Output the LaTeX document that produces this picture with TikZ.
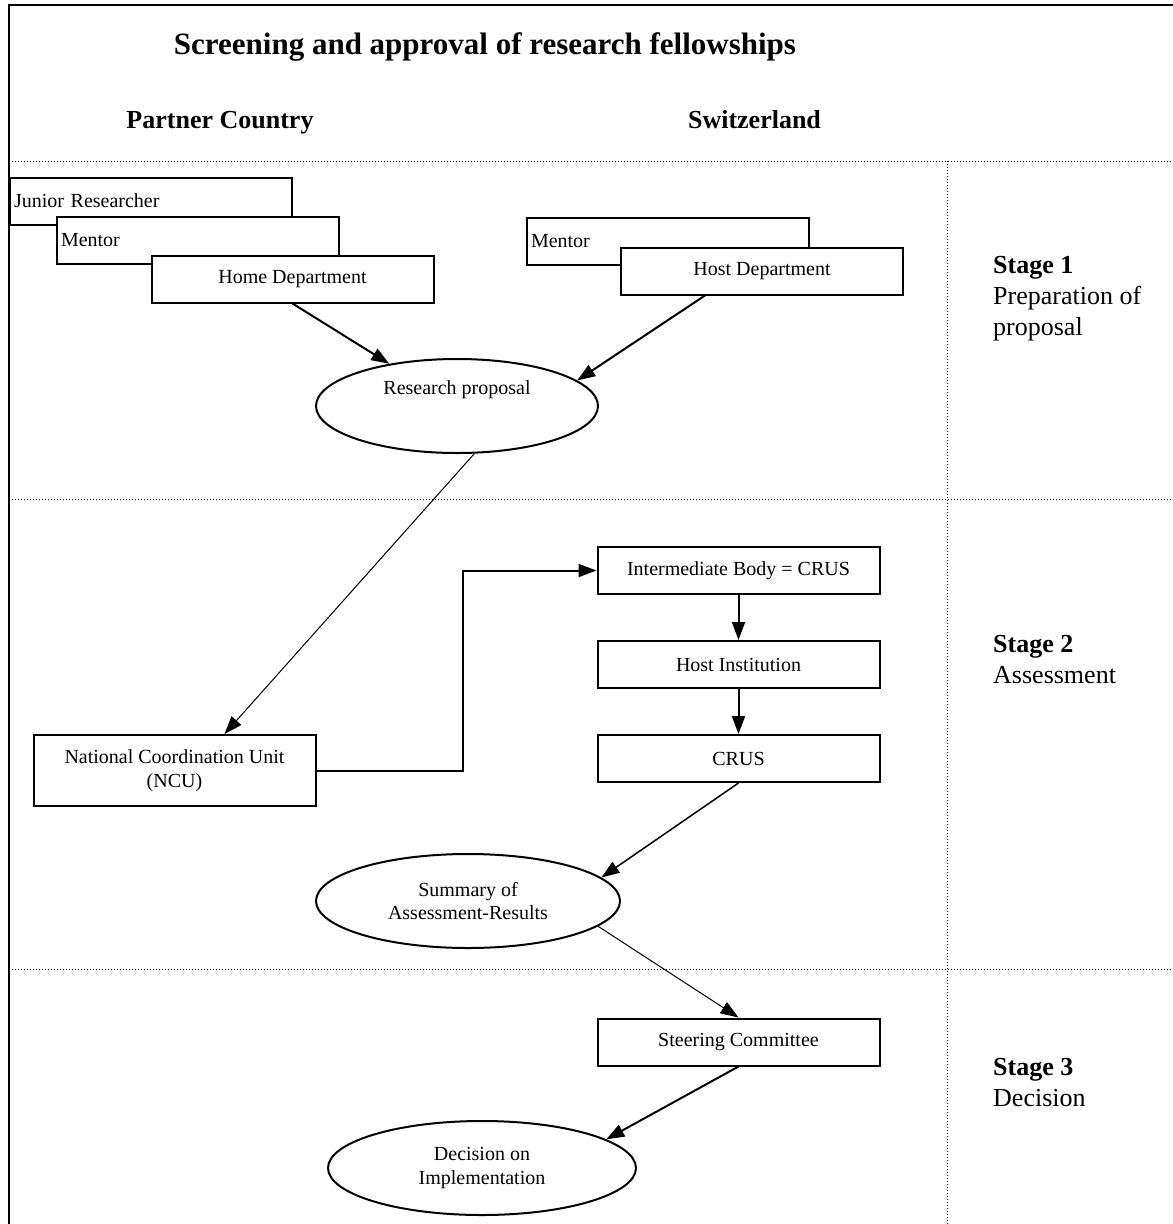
\documentclass[tikz,border=0pt]{standalone}
\usepackage{fontspec}
\setmainfont{Liberation Serif}
\usepackage{tikz}
\usetikzlibrary{shapes.geometric,arrows.meta}

\begin{document}
\begin{tikzpicture}[x=1pt,y=-1pt,
  box/.style={draw, line width=2, fill=white, minimum width=282, minimum height=47,
    inner sep=0, align=center, font=\fontsize{20}{23.5}\selectfont},
  lbox/.style={box, text width=274, inner xsep=4, align=left},
  oval/.style={draw, ellipse, line width=2, minimum height=94, inner sep=0,
    align=center, font=\fontsize{20}{23.5}\selectfont},
  head/.style={anchor=base, font=\bfseries\fontsize{26}{31}\selectfont},
  stage/.style={anchor=west, align=left, inner sep=0, font=\fontsize{26}{31}\selectfont},
  sep/.style={line width=1, dash pattern=on 1pt off 2pt},
  arr/.style={line width=2, -{Triangle[length=18pt,width=13pt]}},
  thin/.style={arr, line width=1}]

\useasboundingbox (0,0) rectangle (1173,1224);

\draw[line width=2] (9,1224) -- (9,5) -- (1173,5);

\draw[sep] (9,161) -- (1173,161);
\draw[sep] (9,499) -- (1173,499);
\draw[sep] (9,969) -- (1173,969);
\draw[sep] (947.5,161) -- (947.5,1224);

\node[font=\bfseries\fontsize{31}{36}\selectfont] (title) at (485,47) {Screening and approval of research fellowships};
\node[head] (partner) at (220,128) {Partner Country};
\node[head] (swiss) at (754.5,128) {Switzerland};

% stage 1
\node[lbox] (junior) at (151,201) {Junior Researcher};
\node[lbox] (mentorA) at (198,240.5) {Mentor};
\node[box] (home) at (292.5,279) {Home Department};
\node[lbox] (mentorB) at (668,241.5) {Mentor};
\node[box] (host) at (762,271) {Host Department};
\node[oval, minimum width=282] (proposal) at (457,406) {Research proposal\\[14pt]~};

\draw[arr] (home.south) -- (proposal);
\draw[arr] ([xshift=-57pt]host.south) -- (proposal.12);

% stage 2
\node[box, minimum height=71] (ncu) at (174.5,770.5) {National Coordination Unit\\(NCU)};
\node[box] (inter) at (738.5,570.5) {Intermediate Body = CRUS};
\node[box] (inst) at (738.5,664.5) {Host Institution};
\node[box] (crus) at (738.5,758.5) {CRUS};
\node[oval, minimum width=304] (summary) at (468,901) {Summary of\\Assessment-Results};

\draw[thin] (proposal.-70) -- ([xshift=50pt]ncu.north);
\draw[arr] (ncu.east) -- ++(146,0) |- (inter.west);
\draw[arr] (inter) -- (inst);
\draw[arr] (inst) -- (crus);
\draw[arr, line width=1.5] (crus.south) -- (summary.10);

% stage 3
\node[box] (steer) at (738.5,1042) {Steering Committee};
\node[oval, minimum width=308] (decision) at (482,1168) {Decision on\\Implementation};

\draw[thin] (summary.-11) -- (steer.north);
\draw[arr] (steer.south) -- (decision.13);

\node[stage] (stage1) at (993,299) {\textbf{Stage 1}\\Preparation of\\proposal};
\node[stage] (stage2) at (993,660) {\textbf{Stage 2}\\Assessment};
\node[stage] (stage3) at (993,1082.5) {\textbf{Stage 3}\\Decision};

\end{tikzpicture}
\end{document}
